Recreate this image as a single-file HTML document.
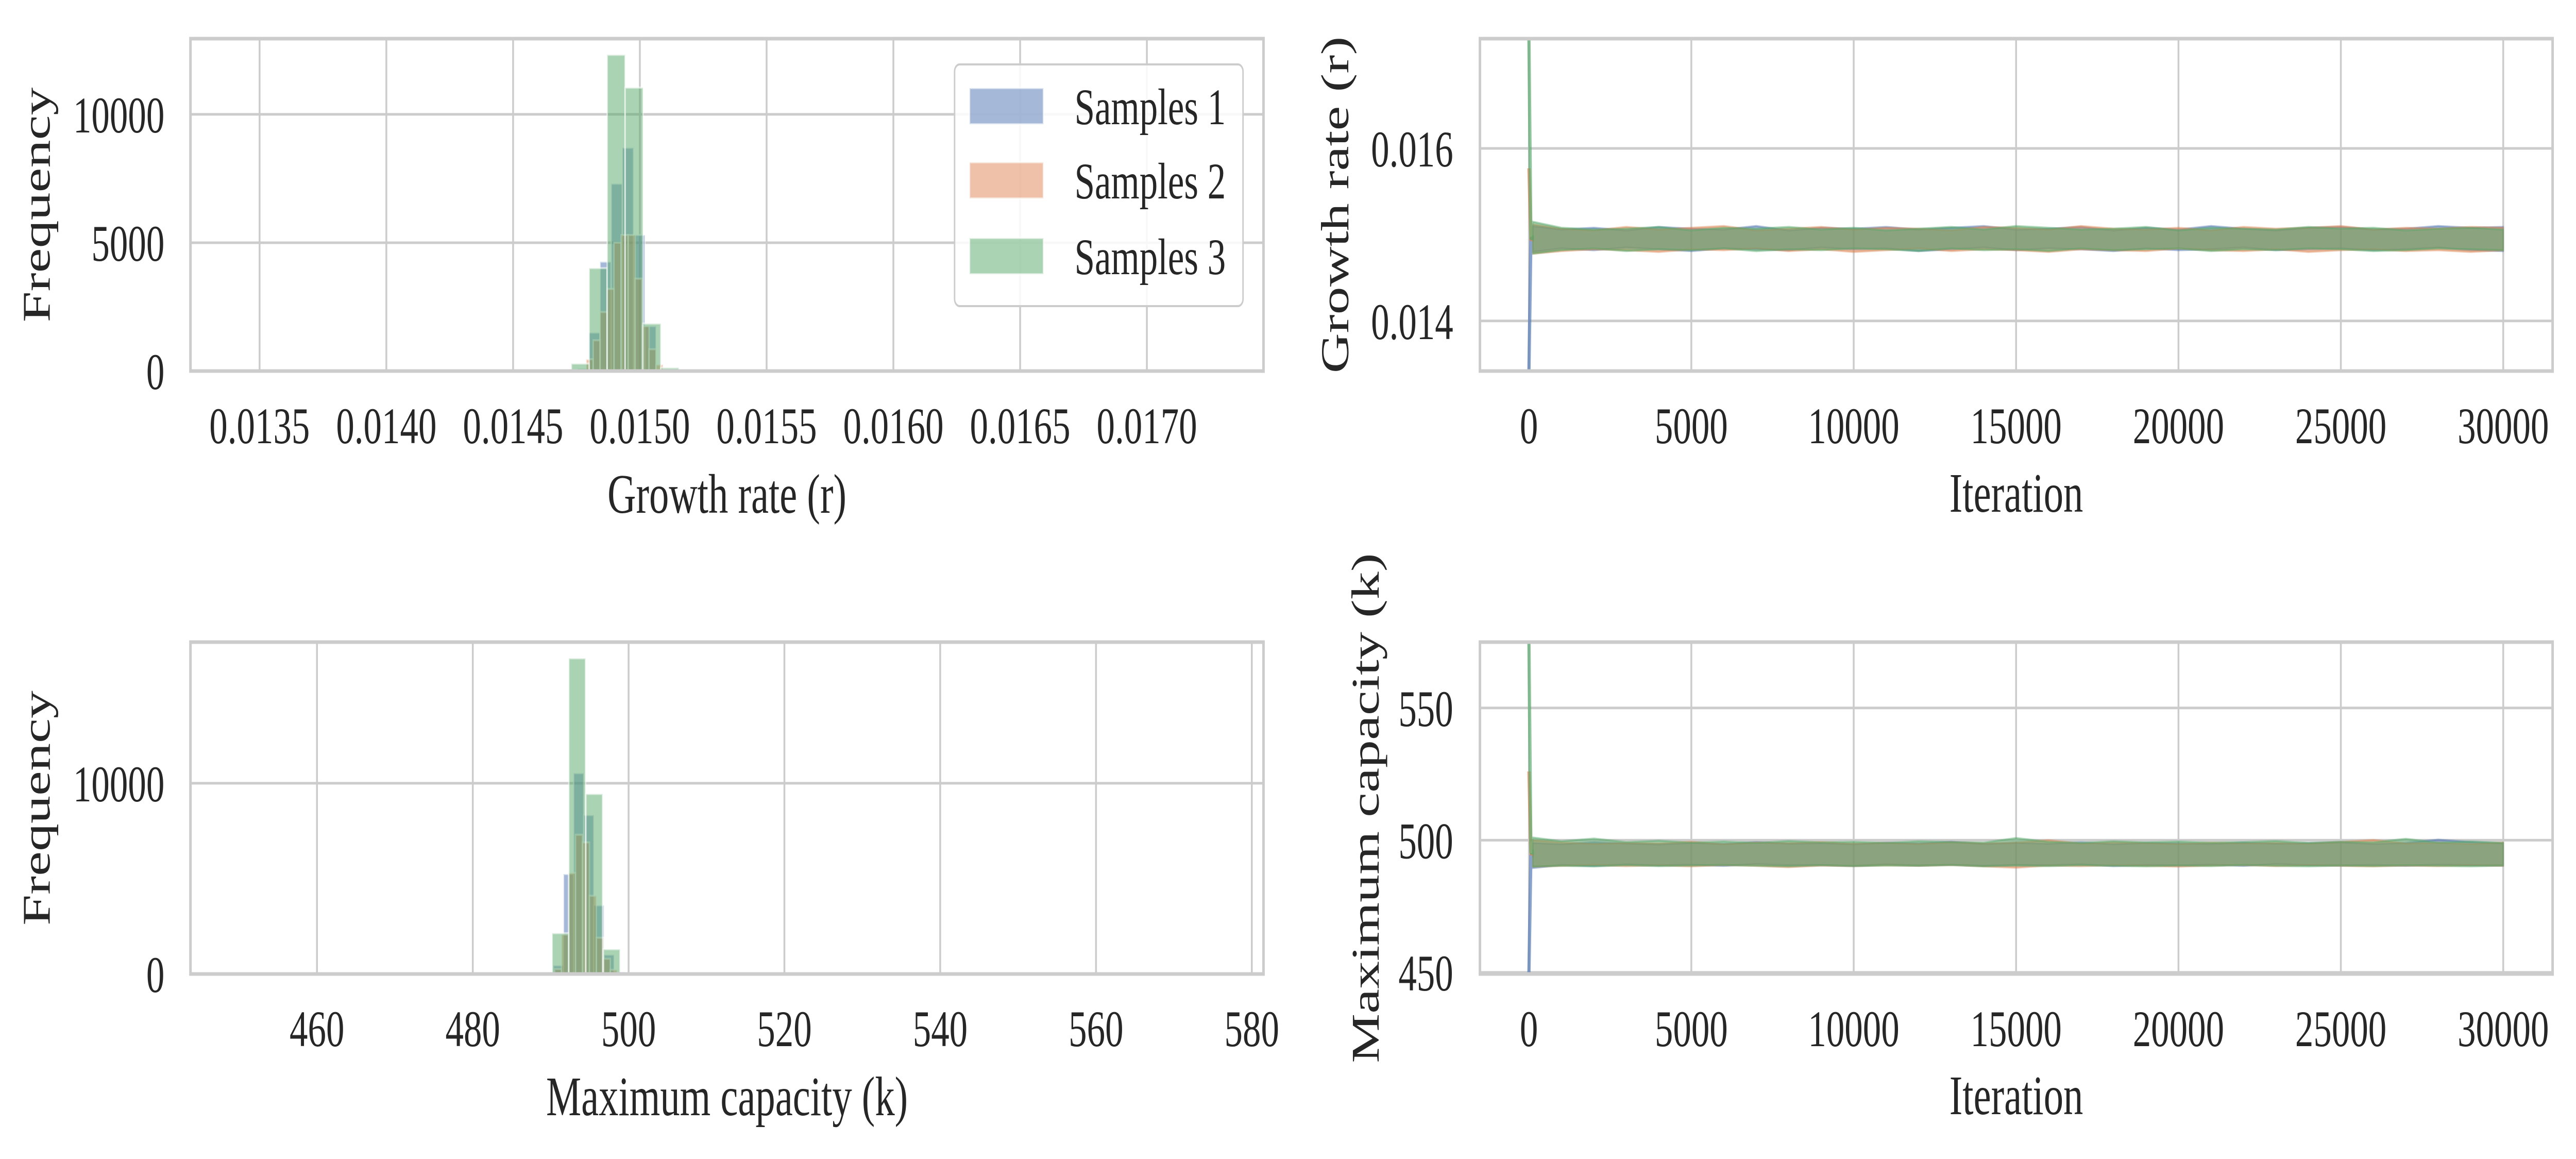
<!DOCTYPE html>
<html><head><meta charset="utf-8">
<style>
html,body{margin:0;padding:0;background:#fff;overflow:hidden;}
svg{display:block;width:100vw;height:100vh;}
text{font-family:"Liberation Serif",serif;fill:#262626;}
</style></head>
<body>
<svg id="fig" viewBox="0 0 7046 2249" preserveAspectRatio="none" xmlns="http://www.w3.org/2000/svg">
<rect width="7046" height="2249" fill="#fff"/>
</svg>
<script>
// ---------- data ----------
const seriesNames = ["Samples 1", "Samples 2", "Samples 3"];
const rEdges1 = [0.014755,0.014799,0.014843,0.014887,0.014931,0.014976,0.015020,0.015064,0.015094];
const rCounts1 = [90,1500,4260,7300,8700,5300,1750,60,60];
const rWidth1 = 0.0000441;
const rEdges2 = [0.014788,0.014816,0.014843,0.014871,0.014898,0.014926,0.014954,0.014981,0.015009,0.015036,0.015064];
const rCounts2 = [460,1200,2300,3200,5000,5300,5300,3600,1750,850,250];
const rWidth2 = 0.0000276;
const rEdges3 = [0.014730,0.014800,0.014871,0.014942,0.015012,0.015083];
const rCounts3 = [290,4010,12320,11040,1850,130];
const rWidth3 = 0.0000707;
const kEdges1 = [490.34,491.64,492.94,494.24,495.54,496.84,498.14];
const kCounts1 = [450,5240,10530,8330,3600,1010,100];
const kWidth1 = 1.3;
const kEdges2 = [490.50,491.39,492.30,493.19,494.08,494.97,495.87,496.76,497.65];
const kCounts2 = [260,2070,5300,7300,6900,4100,1900,800,220];
const kWidth2 = 0.89;
const kEdges3 = [490.18,492.33,494.52,496.76];
const kCounts3 = [2140,16550,9440,1300];
const kWidth3 = 2.14;
const rHistXTicks = [0.0135,0.0140,0.0145,0.0150,0.0155,0.0160,0.0165,0.0170];
const rHistXLabels = ["0.0135","0.0140","0.0145","0.0150","0.0155","0.0160","0.0165","0.0170"];
const rHistYTicks = [0,5000,10000];
const kHistXTicks = [460,480,500,520,540,560,580];
const kHistYTicks = [0,10000];
const iterTicks = [0,5000,10000,15000,20000,25000,30000];
const rTraceYTicks = [0.014,0.016];
const rTraceYLabels = ["0.014","0.016"];
const kTraceYTicks = [450,500,550];
const traceKnots = [0,1000,2000,3000,4000,5000,6000,7000,8000,9000,10000,11000,12000,13000,14000,15000,16000,17000,18000,19000,20000,21000,22000,23000,24000,25000,26000,27000,28000,29000,30000];
const rStart = [0.01342,0.01577,0.01727];
const rUp1 = [0.01510,0.01506,0.01508,0.01505,0.01509,0.01507,0.01506,0.01510,0.01505,0.01508,0.01507,0.01509,0.01506,0.01508,0.01510,0.01506,0.01507,0.01509,0.01505,0.01508,0.01506,0.01510,0.01507,0.01505,0.01508,0.01509,0.01506,0.01507,0.01510,0.01508,0.01509];
const rLo1 = [0.01480,0.01484,0.01482,0.01485,0.01483,0.01481,0.01484,0.01483,0.01482,0.01485,0.01483,0.01484,0.01481,0.01483,0.01485,0.01482,0.01484,0.01483,0.01481,0.01484,0.01482,0.01483,0.01485,0.01482,0.01483,0.01484,0.01482,0.01483,0.01485,0.01482,0.01481];
const rUp2 = [0.01512,0.01507,0.01505,0.01509,0.01506,0.01508,0.01510,0.01505,0.01507,0.01509,0.01506,0.01508,0.01507,0.01505,0.01509,0.01508,0.01506,0.01510,0.01507,0.01506,0.01508,0.01505,0.01509,0.01507,0.01508,0.01510,0.01506,0.01508,0.01507,0.01509,0.01508];
const rLo2 = [0.01478,0.01481,0.01483,0.01482,0.01480,0.01483,0.01482,0.01484,0.01481,0.01483,0.01480,0.01482,0.01484,0.01481,0.01483,0.01482,0.01480,0.01483,0.01482,0.01481,0.01484,0.01482,0.01481,0.01483,0.01480,0.01482,0.01483,0.01481,0.01482,0.01480,0.01482];
const rUp3 = [0.01515,0.01508,0.01506,0.01507,0.01509,0.01505,0.01508,0.01507,0.01509,0.01506,0.01508,0.01505,0.01507,0.01509,0.01506,0.01510,0.01508,0.01506,0.01507,0.01509,0.01505,0.01508,0.01507,0.01506,0.01509,0.01507,0.01508,0.01505,0.01507,0.01508,0.01506];
const rLo3 = [0.01478,0.01482,0.01484,0.01481,0.01483,0.01482,0.01484,0.01481,0.01483,0.01482,0.01484,0.01483,0.01481,0.01484,0.01482,0.01483,0.01481,0.01484,0.01482,0.01483,0.01484,0.01481,0.01483,0.01482,0.01484,0.01483,0.01481,0.01482,0.01484,0.01483,0.01482];
const kStart = [450,526,575];
const kUp1 = [499,498.5,499.2,498.8,498.4,499.0,498.6,499.3,498.7,498.9,498.5,499.1,498.8,499.4,498.6,499.0,498.7,499.2,498.5,499.0,498.8,498.6,499.1,498.7,498.9,499.2,498.6,499.0,500.2,499.3,498.8];
const kLo1 = [489.5,490.6,490.2,490.8,490.4,490.7,490.3,490.9,490.5,490.6,490.2,490.8,490.4,490.7,490.3,490.6,490.5,490.8,490.2,490.6,490.4,490.7,490.3,490.9,490.5,490.4,490.6,490.3,490.7,490.5,490.4];
const kUp2 = [500,499.2,498.6,499.0,498.8,499.4,498.5,499.1,498.9,499.3,498.7,499.0,498.6,499.2,498.8,499.1,500.0,498.7,499.2,498.9,498.6,499.1,498.8,499.0,498.7,499.3,500.1,498.8,499.0,498.6,499.1];
const kLo2 = [490.0,490.3,490.6,490.2,490.5,490.1,490.6,490.3,489.8,490.4,490.2,490.5,490.3,490.6,490.1,489.6,490.4,490.2,490.5,490.3,490.0,490.4,490.6,490.2,490.5,490.3,490.1,490.4,490.2,490.5,490.3];
const kUp3 = [501,499.6,500.6,499.3,499.8,499.1,499.5,499.0,499.7,499.2,499.4,499.0,499.6,499.3,499.1,500.8,499.4,499.0,499.6,499.2,499.5,499.1,499.3,499.7,499.0,499.4,499.2,500.5,499.1,499.5,499.0];
const kLo3 = [490.0,490.3,490.1,490.5,490.2,490.4,490.6,490.3,490.1,490.5,490.2,490.4,490.3,490.6,490.1,490.4,490.2,490.5,490.3,490.1,490.4,490.2,490.6,490.3,490.1,490.4,490.2,490.5,490.3,490.1,490.4];

// ---------- rendering ----------
const NS = "http://www.w3.org/2000/svg";
const svg = document.getElementById("fig");
const colors = ["#4C72B0","#DD8452","#55A868"];
function mk(tag, attrs, parent){
  const e = document.createElementNS(NS, tag);
  for (const k in attrs) e.setAttribute(k, attrs[k]);
  (parent||svg).appendChild(e);
  return e;
}
function lin(d0,d1,p0,p1){ return v => p0 + (v-d0)/(d1-d0)*(p1-p0); }
function makeAxes(name, box, xd, yd){
  const g = mk("g", {});
  
  
  return {g, sx:lin(xd[0], xd[1], box.x0, box.x1), sy:lin(yd[0], yd[1], box.y1, box.y0), box};
}
function gridAndTicks(ax, xt, xl, yt, yl, yLabRight){
  const {g, sx, sy, box} = ax;
  const grid = mk("g", {}, g);
  
  
  xt.forEach((v,i) => {
    const x = sx(v);
    const l = mk("line", {x1:x, x2:x, y1:box.y0, y2:box.y1, stroke:"#cccccc", "stroke-width":5}, grid);
    
    
    const t = mk("text", {x:x, y:box.y1+140, "text-anchor":"middle", "font-size":100}, g);
    
    
    t.textContent = xl[i];
  });
  yt.forEach((v,i) => {
    const y = sy(v);
    const l = mk("line", {x1:box.x0, x2:box.x1, y1:y, y2:y, stroke:"#cccccc", "stroke-width":5}, grid);
    
    
    const t = mk("text", {x:yLabRight, y:y+35, "text-anchor":"end", "font-size":100}, g);
    
    
    t.textContent = yl[i];
  });
}
function frame(ax){
  const {g, box} = ax;
  const r = mk("rect", {x:box.x0, y:box.y0, width:box.x1-box.x0, height:box.y1-box.y0, fill:"none", stroke:"#cccccc", "stroke-width":7}, g);
  
  
}
function labels(ax, xlabel, xly, ylabel, ylx){
  const {g, box} = ax;
  const t = mk("text", {x:(box.x0+box.x1)/2, y:xly, "text-anchor":"middle", "font-size":108}, g);
  
  
  t.textContent = xlabel;
  const cy = (box.y0+box.y1)/2;
  const t2 = mk("text", {x:ylx, y:cy, "text-anchor":"middle", "dominant-baseline":"central", "font-size":108, transform:`rotate(-90 ${ylx} ${cy})`}, g);
  
  
  t2.textContent = ylabel;
}
function hist(ax, edges, counts, width, si){
  const {g, sx, sy} = ax;
  const hg = mk("g", {}, g);
  
  
  edges.forEach((e,i) => {
    const x0 = sx(e), x1 = sx(e+width), y = sy(counts[i]), yb = sy(0);
    const r = mk("rect", {x:x0, y:y, width:x1-x0, height:yb-y, fill:colors[si], "fill-opacity":0.5, stroke:"#ffffff", "stroke-opacity":0.55, "stroke-width":4}, hg);
    
    
  });
}
function trace(ax, start, up, lo, si){
  const {g, sx, sy} = ax;
  const tg = mk("g", {}, g);
  
  
  let pts = [];
  traceKnots.forEach((k,i) => { const kk = Math.max(k, 120); pts.push(sx(kk)+","+sy(up[i])); });
  for (let i=traceKnots.length-1;i>=0;i--){ const kk = Math.max(traceKnots[i], 120); pts.push(sx(kk)+","+sy(lo[i])); }
  const band = mk("polygon", {points:pts.join(" "), fill:colors[si], "fill-opacity":0.5, stroke:colors[si], "stroke-opacity":0.45, "stroke-width":4, "stroke-linejoin":"round"}, tg);
  
  
  const mid = (up[0]+lo[0])/2;
  const line = mk("polyline", {points:[sx(0)+","+sy(start[si]), sx(60)+","+sy(mid), sx(150)+","+sy(mid)].join(" "), fill:"none", stroke:colors[si], "stroke-opacity":0.65, "stroke-width":9, "stroke-linejoin":"round"}, tg);
  
  
}

const axA = makeAxes("growth-rate-histogram", {x0:521,x1:3456,y0:75,y1:720}, [0.0132274,0.017460], [0,12950]);
gridAndTicks(axA, rHistXTicks, rHistXLabels, rHistYTicks, rHistYTicks.map(String), 450);
hist(axA, rEdges1, rCounts1, rWidth1, 0);
hist(axA, rEdges2, rCounts2, rWidth2, 1);
hist(axA, rEdges3, rCounts3, rWidth3, 2);
frame(axA);
labels(axA, "Growth rate (r)", 995, "Frequency", 101);

const lg = mk("g", {}, axA.g);


const lbox = mk("rect", {x:2611, y:125, width:789, height:469, rx:14, fill:"#ffffff", "fill-opacity":0.85, stroke:"#cccccc", "stroke-width":4}, lg);


const legendRows = [206, 350, 497];
seriesNames.forEach((n,i) => {
  const e = mk("g", {}, lg);
  
  
  const p = mk("rect", {x:2652, y:legendRows[i]-35, width:202, height:70, fill:colors[i], "fill-opacity":0.5, stroke:"#ffffff", "stroke-opacity":0.55, "stroke-width":4}, e);
  
  
  const t = mk("text", {x:2939, y:legendRows[i]+35, "font-size":100}, e);
  
  
  t.textContent = n;
});

const axB = makeAxes("growth-rate-trace", {x0:4048,x1:6982,y0:75,y1:720}, [-1508.6,31520], [0.013419,0.017273]);
gridAndTicks(axB, iterTicks, iterTicks.map(String), rTraceYTicks, rTraceYLabels, 3975);
trace(axB, rStart, rUp1, rLo1, 0);
trace(axB, rStart, rUp2, rLo2, 1);
trace(axB, rStart, rUp3, rLo3, 2);
frame(axB);
labels(axB, "Iteration", 993, "Growth rate (r)", 3653);

const axC = makeAxes("capacity-histogram", {x0:521,x1:3456,y0:1246,y1:1890}, [443.76,581.5], [0,17400]);
gridAndTicks(axC, kHistXTicks, kHistXTicks.map(String), kHistYTicks, kHistYTicks.map(String), 450);
hist(axC, kEdges1, kCounts1, kWidth1, 0);
hist(axC, kEdges2, kCounts2, kWidth2, 1);
hist(axC, kEdges3, kCounts3, kWidth3, 2);
frame(axC);
labels(axC, "Maximum capacity (k)", 2164, "Frequency", 101);

const axD = makeAxes("capacity-trace", {x0:4048,x1:6982,y0:1246,y1:1890}, [-1508.6,31520], [449.4,574.9]);
gridAndTicks(axD, iterTicks, iterTicks.map(String), kTraceYTicks, kTraceYTicks.map(String), 3975);
trace(axD, kStart, kUp1, kLo1, 0);
trace(axD, kStart, kUp2, kLo2, 1);
trace(axD, kStart, kUp3, kLo3, 2);
frame(axD);
labels(axD, "Iteration", 2162, "Maximum capacity (k)", 3736);
</script>
</body></html>
